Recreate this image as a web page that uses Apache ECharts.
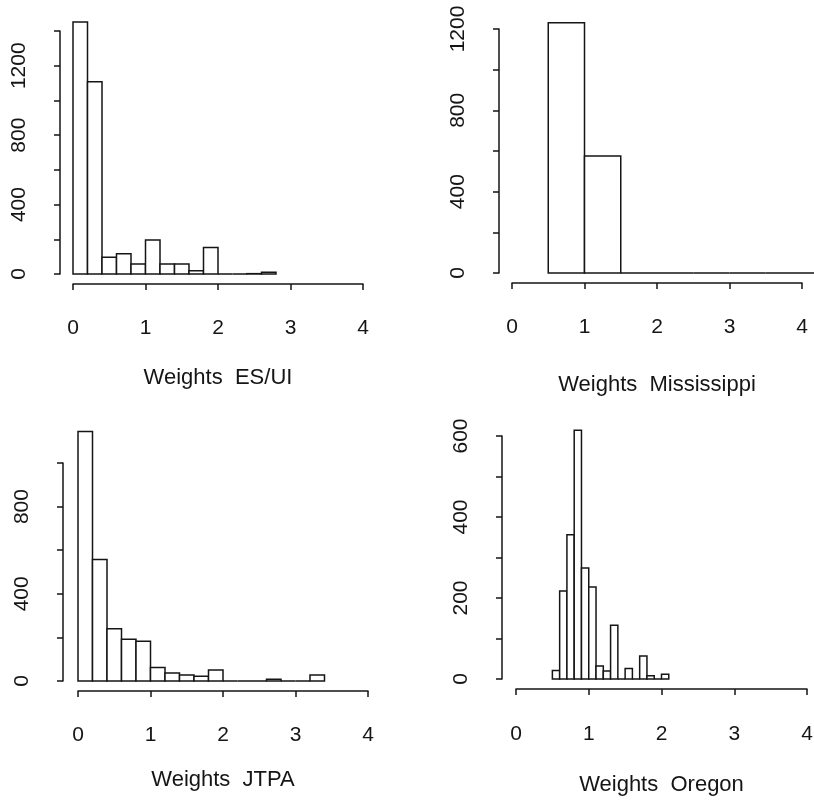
<!DOCTYPE html>
<html>
<head>
<meta charset="utf-8">
<title>Weights histograms</title>
<script src="https://cdn.jsdelivr.net/npm/echarts@6/dist/echarts.min.js"></script>
<style>
  html, body { margin: 0; padding: 0; background: #fff; }
  #chart { width: 814px; height: 802px; }
</style>
</head>
<body>
<div id="chart"></div>
<script>
// bin edges and counts
const esuiBreaks = [0, 0.2, 0.4, 0.6, 0.8, 1.0, 1.2, 1.4, 1.6, 1.8, 2.0, 2.2, 2.4, 2.6, 2.8]
const esuiCounts = [1452, 1107, 97, 116, 58, 196, 58, 58, 19, 153, 0, 0, 2, 10]

const missBreaks = [0.5, 1.0, 1.5, 2.0, 2.5, 3.0, 3.5, 4.0, 4.5]
const missCounts = [1231, 575, 0, 0, 0, 0, 0, 0]

const jtpaBreaks = [0, 0.2, 0.4, 0.6, 0.8, 1.0, 1.2, 1.4, 1.6, 1.8, 2.0, 2.2, 2.4, 2.6, 2.8, 3.0, 3.2, 3.4]
const jtpaCounts = [1145, 557, 240, 191, 182, 62, 37, 28, 22, 51, 0, 0, 0, 8, 0, 0, 28]

const oregonBreaks = [0.5, 0.6, 0.7, 0.8, 0.9, 1.0, 1.1, 1.2, 1.3, 1.4, 1.5, 1.6, 1.7, 1.8, 1.9, 2.0, 2.1]
const oregonCounts = [21, 217, 356, 614, 274, 227, 32, 20, 133, 0, 26, 0, 57, 8, 0, 12]

const xTicks = [0, 1, 2, 3, 4]
const titles = ['Weights  ES/UI', 'Weights  Mississippi', 'Weights  JTPA', 'Weights  Oregon']

const ink = '#151515'
const font = '"Liberation Sans", Arial, Helvetica, sans-serif'

// panel geometry (pixels) + y scale per panel
const panels = [
  { breaks: esuiBreaks, counts: esuiCounts, left: 73, width: 290, top: 31, height: 243, yMax: 1400, yStep: 200, yLabelEvery: 400, yOff: 13, xOff: 10, labelGap: 34, nameGap: 83 },
  { breaks: missBreaks, counts: missCounts, left: 512, width: 290, top: 29, height: 244, yMax: 1200, yStep: 200, yLabelEvery: 400, yOff: 13, xOff: 10, labelGap: 34, nameGap: 91 },
  { breaks: jtpaBreaks, counts: jtpaCounts, left: 78, width: 290, top: 463, height: 218, yMax: 1000, yStep: 200, yLabelEvery: 400, yOff: 15, xOff: 10, labelGap: 34, nameGap: 78 },
  { breaks: oregonBreaks, counts: oregonCounts, left: 516, width: 291, top: 436, height: 243, yMax: 600, yStep: 100, yLabelEvery: 200, yOff: 14, xOff: 10, labelGap: 35, nameGap: 85 }
]

const toBins = (breaks, counts) => counts.map((c, i) => [breaks[i], breaks[i + 1], c])

// draw each bin as an open rectangle through the axis scales
const renderBin = (params, api) => {
  const a = api.coord([api.value(0), api.value(2)])
  const b = api.coord([api.value(1), 0])
  return {
    type: 'rect',
    shape: { x: a[0], y: a[1], width: b[0] - a[0], height: b[1] - a[1] },
    style: { fill: '#fff', stroke: ink, lineWidth: 1.5 }
  }
}

const grid = []
const xAxis = []
const yAxis = []
const series = []

panels.forEach((p, i) => {
  grid.push({ left: p.left, top: p.top, width: p.width, height: p.height, containLabel: false, outerBoundsMode: 'none' })
  xAxis.push({
    type: 'value',
    gridIndex: i,
    min: 0,
    max: 4,
    interval: 1,
    offset: p.xOff,
    name: titles[i],
    nameLocation: 'middle',
    nameGap: p.nameGap,
    nameTextStyle: { color: ink, fontSize: 22, fontFamily: font },
    axisLine: { show: true, onZero: false, lineStyle: { color: ink, width: 1.5 } },
    axisTick: { show: true, length: 6, lineStyle: { color: ink, width: 1.5 } },
    axisLabel: {
      color: ink, fontSize: 21, fontFamily: font, margin: p.labelGap,
      formatter: v => xTicks.includes(v) ? String(v) : ''
    },
    splitLine: { show: false }
  })
  yAxis.push({
    type: 'value',
    gridIndex: i,
    min: 0,
    max: p.yMax,
    interval: p.yStep,
    offset: p.yOff,
    axisLine: { show: true, onZero: false, lineStyle: { color: ink, width: 1.5 } },
    axisTick: { show: true, length: 6, lineStyle: { color: ink, width: 1.5 } },
    axisLabel: {
      color: ink, fontSize: 21, fontFamily: font, margin: 30, rotate: 90,
      formatter: v => v % p.yLabelEvery === 0 ? String(v) : ''
    },
    splitLine: { show: false }
  })
  series.push({
    type: 'custom',
    xAxisIndex: i,
    yAxisIndex: i,
    clip: false,
    silent: true,
    renderItem: renderBin,
    encode: { x: [0, 1], y: 2 },
    data: toBins(p.breaks, p.counts)
  })
})

const chart = echarts.init(document.getElementById('chart'), null, { renderer: 'canvas' })
chart.setOption({
  backgroundColor: '#fff',
  animation: false,
  grid,
  xAxis,
  yAxis,
  series
})
window.addEventListener('resize', () => chart.resize())
</script>
</body>
</html>
